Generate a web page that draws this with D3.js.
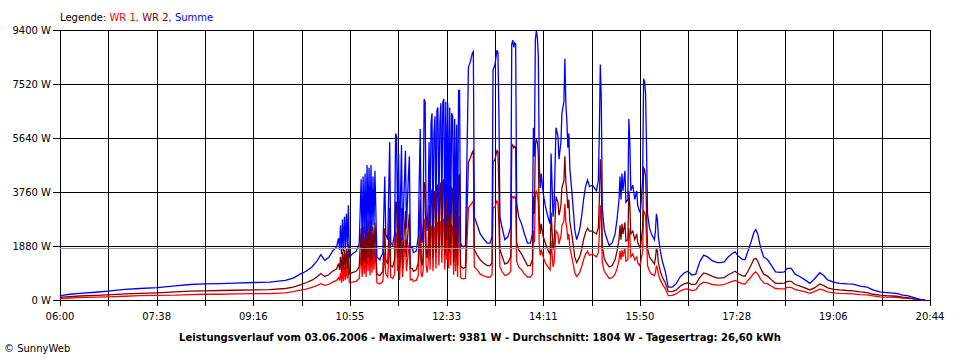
<!DOCTYPE html>
<html><head><meta charset="utf-8">
<script src="https://cdn.jsdelivr.net/npm/d3@7/dist/d3.min.js"></script>
<style>
html,body{margin:0;padding:0;background:#fff;}
svg{display:block;}
text{font-family:"DejaVu Sans",sans-serif;font-size:10px;fill:#000;}
</style></head>
<body>
<svg id="chart" width="960" height="360"></svg>
<script>
// minutes after 06:00
const times = [0,2,10,20,36,49,66,81,99,117,132,147,163,178,197,213,229,237,244,250,256,261,265,269,273,277,281,
283,284,285,286,287,288,289,290,291,292,293,294,297,301,304,306,307,308,309,310,311,312,313,314,315,316,317,318,319,320,321,322,325,328,330,331,333,335,336,338,340,341,342,343,344,345,347,348,351,352,354,355,356,358,359,362,364,366,367,368,369,370,371,372,373,374,375,376,377,378,379,380,381,382,383,384,385,386,387,388,389,390,391,392,393,394,395,396,397,398,399,400,401,402,403,404,405,406,407,408,410,412,
414,415,417,419,420,421,424,427,430,434,437,439,440,442,444,445,446,447,449,452,455,458,459,460,461,462,463,464,466,469,472,475,478,480,481,482,483,484,485,486,487,488,489,491,493,495,497,498,499,501,502,504,506,507,508,509,510,512,513,514,515,516,517,518,520,522,523,525,528,530,532,534,536,538,541,543,545,547,548,549,550,551,553,555,558,561,564,566,568,569,570,571,572,574,575,577,578,579,580,582,584,586,587,589,590,592,593,594,595,596,597,599,601,604,605,606,607,608,610,612,615,618,622,626,630,634,638,642,646,650,654,658,663,668,671,675,679,683,686,689,693,696,699,702,705,707,709,712,715,719,723,727,732,736,739,743,747,752,757,762,767,772,776,780,786,792,800,806,813,820,826,833,840,850,856,861,867,872,875,879];

const summe = [110,160,200,230,270,310,370,400,430,490,540,560,570,590,610,620,680,760,900,1000,1150,1350,1580,1380,1480,1700,1850,
2150,1750,2600,1600,2800,1700,2900,1800,3000,1900,3300,1500,1600,1700,1950,4200,2000,4300,2300,4400,2100,4700,2500,4600,2200,4700,2400,4300,2600,4500,3000,1500,1400,1650,4300,2300,2100,5500,2000,1900,2300,5800,5700,2500,5100,1800,5400,2100,5200,2500,4300,5000,1800,1850,1650,1700,2200,5950,2300,2000,2700,7000,6900,3000,2400,3200,5500,2600,6150,6500,2500,5800,6400,2800,6600,6700,3000,6200,6850,3200,6900,7000,2600,6900,3500,6850,2800,6700,3000,6500,6400,2200,6300,2500,6100,2000,7300,7300,2000,1900,1850,1900,
6000,8100,8300,8600,8650,2900,2600,2300,2150,1980,1980,2200,8000,8200,8700,8600,6400,2900,2550,2100,2200,2550,8900,9050,8800,8950,8900,3400,2900,2650,2300,1980,1980,2300,6000,5000,9050,9381,9150,8500,4650,3900,4400,3700,3300,3000,2750,2650,5100,2900,3250,6000,5700,4900,5200,5500,6500,6900,8400,6800,6250,5300,5800,4600,3800,2950,2450,2100,2450,2900,3500,3950,4180,3950,4000,3900,3800,4150,5800,8200,7000,3200,2450,2200,1900,1980,2300,2800,3500,4300,3500,4400,3800,4500,3400,3500,6300,5500,3800,4000,3500,3800,3300,3050,3200,4200,7700,7600,7200,5200,3000,2500,2300,2100,2400,3000,2800,2200,1700,1350,1000,450,450,560,800,940,1000,870,900,1330,1560,1500,1360,1300,1300,1330,1500,1620,1680,1530,1420,1400,1700,2000,2350,2450,2300,1800,1500,1400,1200,980,960,980,1100,1100,900,810,700,580,750,950,850,700,620,580,560,550,480,450,350,280,260,230,170,150,90,40,10,0];

const wr2 = [60,100,120,140,160,180,210,230,250,280,310,320,330,340,350,360,400,450,530,600,690,800,920,820,880,1000,1080,
1270,1050,1500,950,1680,1000,1750,1050,1800,1100,1950,900,950,1000,1150,2500,1200,2550,1350,2600,1250,2800,1500,2750,1300,2800,1400,2550,1550,2700,1800,900,850,1000,2500,1400,1250,3200,1200,1150,1400,3400,3400,1500,3050,1100,3200,1250,3100,1500,2600,3000,1100,1100,1000,1050,1300,3500,1400,1200,1600,4100,4000,1800,1450,1900,3300,1550,3600,3850,1500,3450,3800,1650,3950,4000,1800,3700,4100,1900,4100,4200,1550,4150,2100,4100,1700,4000,1800,3900,3850,1300,3750,1500,3600,1200,4300,4350,1200,1150,1100,1150,
3600,4800,4950,5150,5200,1750,1550,1400,1300,1200,1200,1300,4800,4900,5200,5150,3800,1750,1550,1250,1300,1500,5350,5400,5300,5350,5300,2000,1750,1600,1400,1200,1200,1400,3600,3000,5400,5600,5500,5100,2800,2300,2650,2200,2000,1800,1650,1600,3050,1750,1950,3600,3400,2950,3100,3300,3900,4150,5000,4100,3750,3200,3500,2750,2300,1800,1500,1300,1500,1750,2100,2350,2500,2400,2400,2350,2300,2500,3500,4900,4200,1900,1450,1300,1150,1200,1400,1700,2100,2600,2100,2650,2300,2700,2050,2100,3800,3300,2300,2400,2100,2300,2000,1850,1900,2500,4600,4550,4300,3100,1800,1500,1400,1250,1450,1800,1700,1300,1000,800,600,300,290,340,480,560,600,540,550,780,940,900,820,760,760,780,880,950,1000,920,850,830,1000,1200,1420,1450,1350,1100,900,830,700,580,580,590,650,650,540,480,420,350,430,560,500,420,370,350,330,320,280,260,200,170,150,130,100,80,50,20,5,0];

const wr1 = [40,50,70,80,100,110,130,150,160,170,190,200,200,210,220,220,250,290,340,380,440,500,570,510,540,620,680,
780,680,950,600,1100,650,1150,700,1200,750,1300,600,620,650,750,1650,800,1700,900,1750,800,1900,1000,1850,850,1900,950,1700,1050,1800,1200,600,560,650,1650,900,800,2200,800,750,900,2350,2300,1000,2000,700,2150,800,2100,1000,1700,2000,700,720,650,680,850,2350,900,800,1050,2800,2750,1200,950,1250,2200,1050,2450,2600,1000,2300,2550,1100,2650,2700,1200,2450,2750,1300,2750,2800,1050,2750,1400,2700,1100,2650,1200,2600,2550,880,2500,1000,2400,800,2900,2900,800,750,740,750,
2400,3200,3300,3400,3450,1150,1050,900,850,800,790,880,3200,3250,3450,3400,2550,1150,1000,850,880,1000,3550,3600,3550,3600,3550,1350,1150,1050,900,800,800,900,2400,2000,3650,3780,3650,3400,1850,1550,1750,1500,1300,1200,1100,1050,2050,1150,1300,2400,2300,1950,2100,2200,2600,2750,3350,2700,2500,2100,2300,1850,1500,1150,950,820,950,1150,1400,1600,1700,1550,1600,1550,1500,1650,2300,3300,2800,1300,1000,900,750,780,900,1100,1400,1700,1400,1750,1500,1800,1350,1400,2500,2200,1500,1600,1400,1500,1300,1200,1300,1700,3100,3050,2900,2100,1200,1000,900,850,950,1200,1100,900,700,550,400,150,160,210,310,370,390,330,350,540,620,600,540,520,520,540,600,650,680,620,570,550,680,800,930,980,900,720,600,560,480,400,390,390,440,440,360,330,280,230,300,380,340,280,250,230,220,210,190,180,140,110,100,90,70,60,40,20,5,0];

const timeLabels = ["06:00","07:38","09:16","10:55","12:33","14:11","15:50","17:28","19:06","20:44"];
const yTickValues = [0,1880,3760,5640,7520,9400];
const average = 1804;
const titleText = "Leistungsverlauf vom 03.06.2006 - Maximalwert: 9381 W - Durchschnitt: 1804 W - Tagesertrag: 26,60 kWh";

const svg = d3.select("#chart");
const x = d3.scaleLinear().domain([0, 884]).range([60, 930]);
const y = d3.scaleLinear().domain([0, 9400]).range([300, 30]);
const px = v => Math.round(v) + 0.5;

// legend
const leg = svg.append("text").attr("x", 60).attr("y", 21);
leg.append("tspan").text("Legende: ");
leg.append("tspan").style("fill", "#ff0000").text("WR 1, ");
leg.append("tspan").style("fill", "#800000").text("WR 2, ");
leg.append("tspan").style("fill", "#0000ff").text("Summe");

// grid
const grid = svg.append("g").attr("shape-rendering", "crispEdges").attr("stroke", "#000").attr("stroke-width", 1);
const vIdx = d3.range(19);
grid.selectAll("line.v").data(vIdx).join("line")
  .attr("x1", i => px(x(i * 884 / 18))).attr("x2", i => px(x(i * 884 / 18)))
  .attr("y1", y(9400)).attr("y2", 306);
grid.selectAll("line.h").data(yTickValues).join("line")
  .attr("x1", 53).attr("x2", 931)
  .attr("y1", d => px(y(d))).attr("y2", d => px(y(d)));

// y labels
svg.append("g").selectAll("text").data(yTickValues).join("text")
  .attr("x", 51).attr("y", d => y(d) + 4).attr("text-anchor", "end")
  .text(d => d + " W");

// x labels
svg.append("g").selectAll("text").data(timeLabels).join("text")
  .attr("x", (d, i) => x(i * 884 / 9)).attr("y", 320).attr("text-anchor", "middle")
  .text(d => d);

// series
const n = Math.min(times.length, summe.length, wr1.length, wr2.length);
const series = [
  {vals: wr1, color: "#ff0000"},
  {vals: wr2, color: "#800000"},
  {vals: summe, color: "#0000ff"}
];
const line = d3.line().x(d => x(d[0])).y(d => y(d[1]));
series.forEach(s => {
  svg.append("path")
    .datum(times.slice(0, n).map((t, i) => [t, s.vals[i]]))
    .attr("d", line)
    .attr("fill", "none")
    .attr("stroke", s.color)
    .attr("stroke-width", 1.3);
});

// average line
svg.append("line").attr("shape-rendering", "crispEdges")
  .attr("x1", 60).attr("x2", 930)
  .attr("y1", px(y(average))).attr("y2", px(y(average)))
  .attr("stroke", "#999").attr("stroke-width", 1);

// title
svg.append("text").attr("x", 480).attr("y", 341).attr("text-anchor", "middle")
  .style("font-weight", "bold").text(titleText);

svg.append("text").attr("x", 4).attr("y", 352).text("\u00A9 SunnyWeb");
</script>
</body></html>
